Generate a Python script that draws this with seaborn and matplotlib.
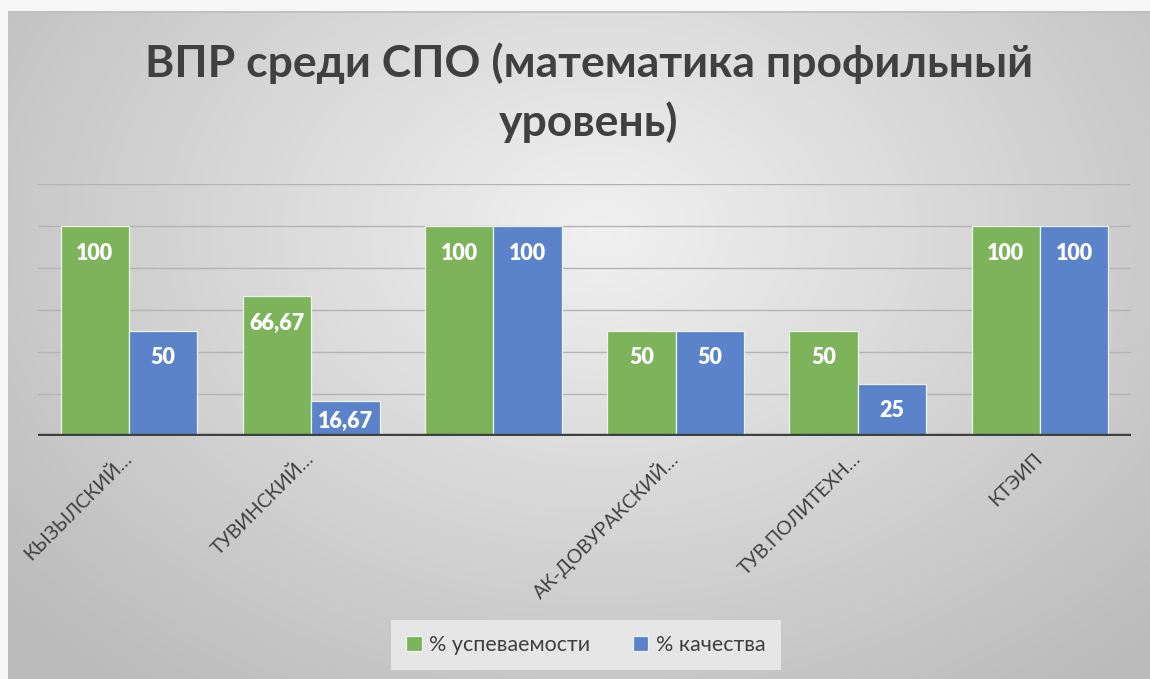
import numpy as np
import pandas as pd
import seaborn as sns
import matplotlib.pyplot as plt

# chart data
colleges = ['КЫЗЫЛСКИЙ…', 'ТУВИНСКИЙ…', ' ', 'АК-ДОВУРАКСКИЙ…', 'ТУВ.ПОЛИТЕХН…', 'КТЭИП']
uspevaemost = [100, 66.67, 100, 50, 50, 100]
kachestvo = [50, 16.67, 100, 50, 25, 100]
series_names = ['% успеваемости', '% качества']
title = 'ВПР среди СПО (математика профильный\nуровень)'

df = pd.DataFrame({
    'college': colleges * 2,
    'value': uspevaemost + kachestvo,
    'series': [series_names[0]] * len(colleges) + [series_names[1]] * len(colleges),
})

sns.set_theme(style='white')
plt.rcParams['font.family'] = ['Lato', 'DejaVu Sans']

fig = plt.figure(figsize=(11.5, 6.79), dpi=100)

# gray radial gradient background, like the Excel chart area
W, H = 1150, 679
yy, xx = np.mgrid[0:H, 0:W]
r = np.sqrt(((xx - 600) / 700.0) ** 2 + ((yy - 230) / 520.0) ** 2)
shade = 0.945 - 0.19 * np.clip(r, 0, 1.1)
bg_img = np.dstack([shade] * 3)
bg_img[:12, :, :] = 0.965
bg_img[11:13, 8:, :] = 0.76
bg_img[:, :8, :] = 0.965
bg = fig.add_axes([0, 0, 1, 1], zorder=-10)
bg.imshow(bg_img, aspect='auto', extent=(0, W, H, 0))
bg.axis('off')

ax = fig.add_axes([38 / W, 1 - 436 / H, (1131 - 38) / W, (436 - 184) / H])
ax.patch.set_alpha(0)

sns.barplot(data=df, x='college', y='value', hue='series',
            palette=['#7DB35B', '#5B83C9'], saturation=1, width=0.75, gap=0,
            edgecolor='#eef3ea', linewidth=0.9, ax=ax, legend=True)

ax.set_ylim(0, 120)
ax.set_yticks(range(0, 121, 20))
ax.set_yticklabels([])
ax.yaxis.grid(True, color='#b4b4b4', linewidth=1.0)
ax.set_axisbelow(True)
ax.axhline(0, color='#404040', linewidth=3.2, zorder=5)
for s in ax.spines.values():
    s.set_visible(False)
ax.tick_params(axis='both', length=0)
ax.set_xlabel('')
ax.set_ylabel('')
ax.set_xlim(-0.5, len(colleges) - 0.5)

for lab in ax.get_xticklabels():
    lab.set_rotation(45)
    lab.set_ha('right')
    lab.set_va('center')
    lab.set_rotation_mode('anchor')
    lab.set_fontsize(14)
    lab.set_color('#404040')
ax.tick_params(axis='x', pad=14)

# data labels inside bar tops
px_per_unit = (436 - 184) / 120.0
for cont in ax.containers:
    for bar in cont:
        h = bar.get_height()
        bar_px = h * px_per_unit
        off_px = min(27, bar_px / 2 + 3)
        txt = f'{h:g}'.replace('.', ',')
        ax.annotate(txt, (bar.get_x() + bar.get_width() / 2, h),
                    xytext=(0, -off_px * 72 / 100), textcoords='offset points',
                    ha='center', va='center', color='white',
                    fontsize=15.5, fontweight='heavy', zorder=6)

leg = ax.legend(loc='center', bbox_to_anchor=(586 / W, 1 - 645 / H),
                bbox_transform=fig.transFigure, ncol=2, frameon=True,
                fontsize=15.5, handlelength=0.7, handleheight=0.7,
                handletextpad=0.35, columnspacing=2.0, borderpad=0.7,
                fancybox=False, title=None)
leg.get_frame().set_facecolor('#e6e6e6')
leg.get_frame().set_edgecolor('none')
leg.get_frame().set_alpha(1)
for t in leg.get_texts():
    t.set_color('#404040')

fig.text(0.512, 1 - 42 / H, title, ha='center', va='top',
         fontsize=32, fontweight='bold', color='#404040', linespacing=1.52)

fig.savefig('out.png', dpi=100)
